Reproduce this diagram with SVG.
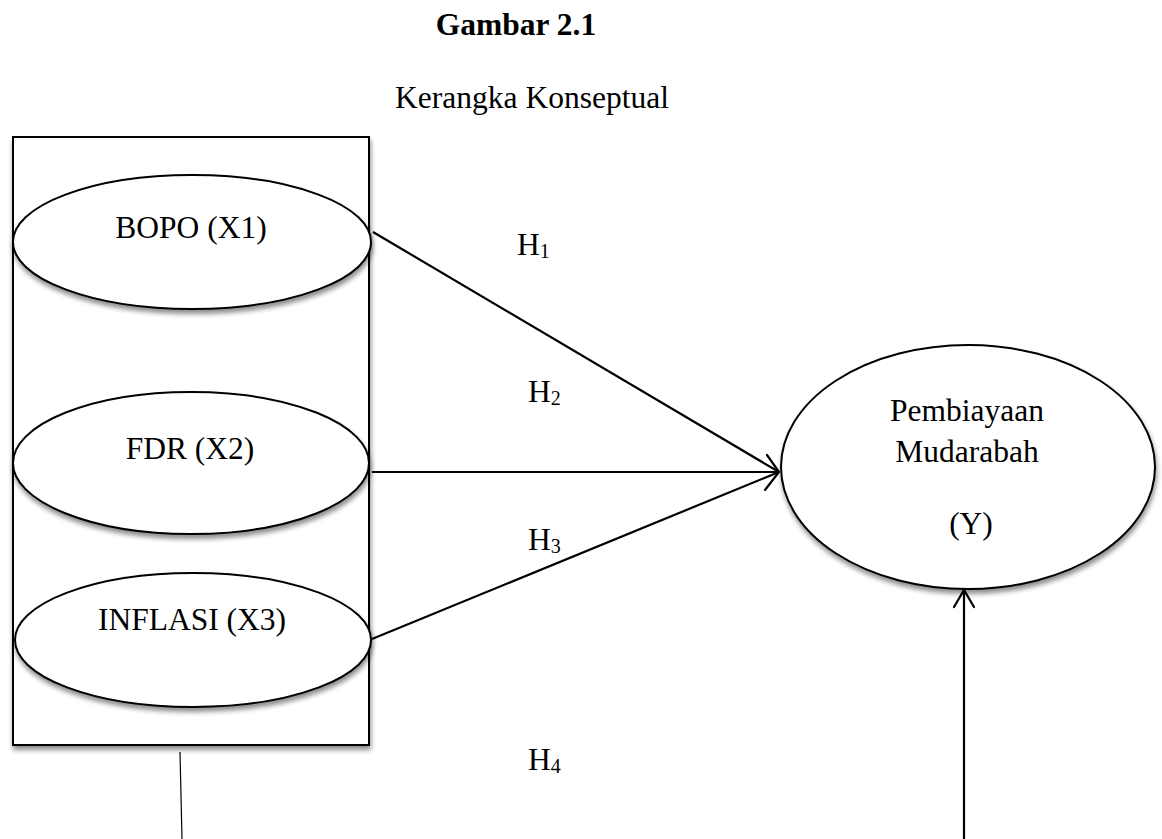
<svg xmlns="http://www.w3.org/2000/svg" width="1162" height="839" viewBox="0 0 1162 839">
<style>
text{font-family:"Liberation Serif","Times New Roman",serif;fill:#000}
.t{font-size:31.5px}
.b{font-weight:bold}
.sub{font-size:20px}
.shape{fill:#fff;stroke:#000;stroke-width:2}
.ln{stroke:#000;stroke-width:2.2;fill:none}
.head{stroke:#000;stroke-width:2.2;fill:none;stroke-linecap:round;stroke-linejoin:miter}
</style>
<defs>
<filter id="sh" x="-10%" y="-10%" width="125%" height="130%">
<feGaussianBlur in="SourceAlpha" stdDeviation="2.5"/>
<feOffset dx="1" dy="4" result="o"/>
<feComponentTransfer><feFuncA type="linear" slope="0.45"/></feComponentTransfer>
<feMerge><feMergeNode/><feMergeNode in="SourceGraphic"/></feMerge>
</filter>
</defs>
<rect width="1162" height="839" fill="#fff"/>
<g id="title">
<text class="t b" x="516" y="35" text-anchor="middle">Gambar 2.1</text>
<text class="t" x="532" y="108" text-anchor="middle">Kerangka Konseptual</text>
</g>
<g id="box">
<rect class="shape" x="13" y="137" width="356" height="608" filter="url(#sh)"/>
</g>
<g id="x1">
<ellipse class="shape" cx="192" cy="242" rx="179" ry="67" filter="url(#sh)"/>
<text class="t" x="191" y="238" text-anchor="middle">BOPO (X1)</text>
</g>
<g id="x2">
<ellipse class="shape" cx="191" cy="463" rx="178" ry="71" filter="url(#sh)"/>
<text class="t" x="190" y="459" text-anchor="middle">FDR (X2)</text>
</g>
<g id="x3">
<ellipse class="shape" cx="193" cy="640" rx="178" ry="67" filter="url(#sh)"/>
<text class="t" x="192" y="630" text-anchor="middle">INFLASI (X3)</text>
</g>
<g id="y">
<ellipse class="shape" cx="968" cy="467" rx="187" ry="122" filter="url(#sh)"/>
<text class="t" x="967" y="421" text-anchor="middle">Pembiayaan</text>
<text class="t" x="967" y="462" text-anchor="middle">Mudarabah</text>
<text class="t" x="971" y="534" text-anchor="middle">(Y)</text>
</g>
<g id="connectors">
<line class="ln" x1="373" y1="232" x2="779" y2="472"/>
<line class="ln" x1="372" y1="472" x2="779" y2="472"/>
<line class="ln" x1="372" y1="639" x2="779" y2="472"/>
<polyline class="head" points="767,455 779,472 765,490"/>
<line stroke="#000" stroke-width="1.2" x1="180" y1="752" x2="182" y2="839"/>
<line class="ln" x1="964" y1="839" x2="964" y2="590"/>
<polyline class="head" points="954,607 964,590 974,607"/>
</g>
<g id="labels">
<text class="t" x="517" y="255">H<tspan class="sub" dy="3">1</tspan></text>
<text class="t" x="528" y="402">H<tspan class="sub" dy="3">2</tspan></text>
<text class="t" x="528" y="550">H<tspan class="sub" dy="3">3</tspan></text>
<text class="t" x="528" y="770">H<tspan class="sub" dy="3">4</tspan></text>
</g>
</svg>
